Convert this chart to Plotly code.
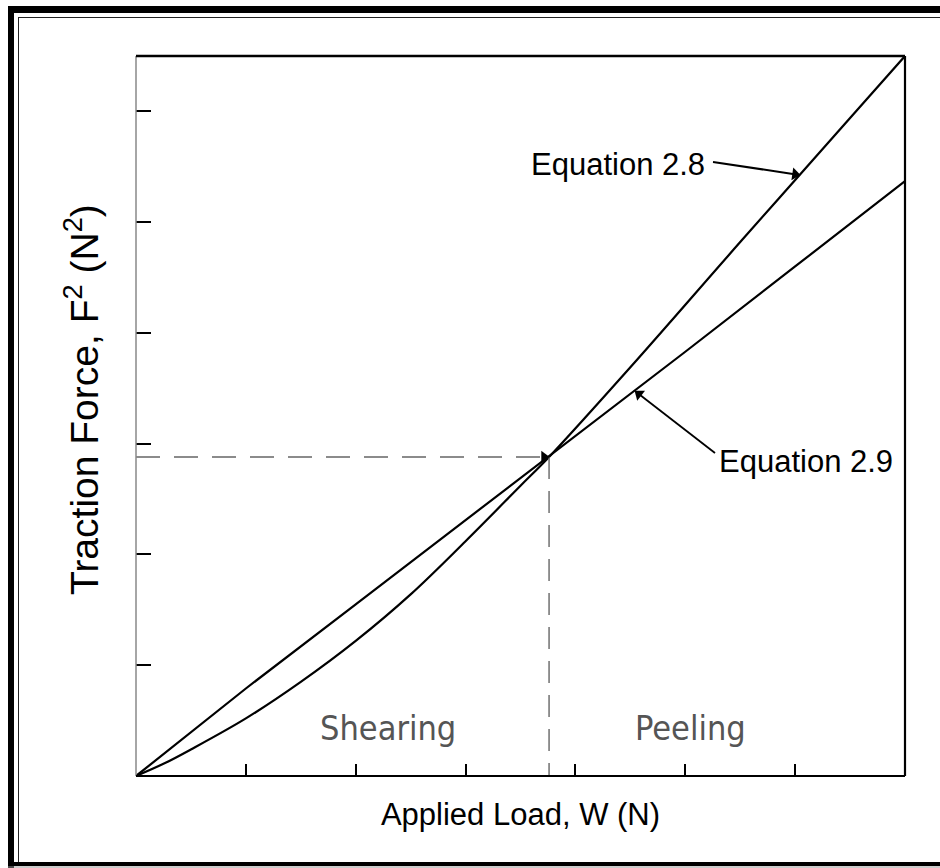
import math
import plotly.graph_objects as go

# Applied load W (N) and traction force squared F^2 (N^2) for the two models
w_eq28 = [0, 0.25, 0.5, 1.0, 1.5, 2.0, 2.5, 3.0, 3.5, 3.76, 4.5, 5.5, 6.5, 7.0]
f2_eq28 = [0, 0.11, 0.24, 0.52, 0.85, 1.22, 1.64, 2.12, 2.62, 2.88, 3.69, 4.82, 5.94, 6.5]

w_eq29 = [0, 1, 2, 3, 3.76, 5, 6, 7]
f2_eq29 = [0, 0.79, 1.55, 2.31, 2.88, 3.83, 4.6, 5.37]

# Shearing / peeling transition point
w_trans = 3.76
f2_trans = 2.88

x_ticks = [1, 2, 3, 4, 5, 6]
y_ticks = [1, 2, 3, 4, 5, 6]
x_range = [0, 7]
y_range = [0, 6.5]

W, H = 940, 868
L, R, T, B = 136, 35, 56, 92
PW, PH = W - L - R, H - T - B

FONT = "Arial, Liberation Sans, sans-serif"
STENCIL = "Liberation Sans Narrow, DejaVu Sans Condensed, sans-serif"


def px(x):
    """page pixel x -> paper fraction"""
    return (x - L) / PW


def py(y):
    """page pixel y -> paper fraction"""
    return (H - B - y) / PH


def to_data(xp, yp):
    """page pixel -> data coordinates"""
    return (x_range[0] + (xp - L) / PW * (x_range[1] - x_range[0]),
            y_range[0] + (H - B - yp) / PH * (y_range[1] - y_range[0]))


fig = go.Figure()

fig.add_trace(go.Scatter(x=w_eq28, y=f2_eq28, mode="lines",
                         line=dict(color="black", width=2.2, shape="spline", smoothing=1.0),
                         hoverinfo="skip", showlegend=False))
fig.add_trace(go.Scatter(x=w_eq29, y=f2_eq29, mode="lines",
                         line=dict(color="black", width=2.2),
                         hoverinfo="skip", showlegend=False))

# dashed guides to the transition point
fig.add_trace(go.Scatter(x=[0, w_trans], y=[f2_trans, f2_trans], mode="lines",
                         line=dict(color="#666", width=1.6, dash="24px,14px"),
                         hoverinfo="skip", showlegend=False))
fig.add_trace(go.Scatter(x=[w_trans, w_trans], y=[f2_trans, 0], mode="lines",
                         line=dict(color="#666", width=1.4, dash="22px,12px"),
                         hoverinfo="skip", showlegend=False))

shapes = []

# leader arrows: shaft as a line shape, head as a rotated triangle marker
head_x, head_y, head_ang = [], [], []


def arrow(tail, tip, shaft=True, width=1.8):
    dx, dy = tip[0] - tail[0], tip[1] - tail[1]
    n = math.hypot(dx, dy)
    ux, uy = dx / n, dy / n
    if shaft:
        x0, y0 = to_data(*tail)
        x1, y1 = to_data(tip[0] - ux * 4, tip[1] - uy * 4)
        shapes.append(dict(type="line", xref="x", yref="y", x0=x0, y0=y0, x1=x1, y1=y1,
                           line=dict(color="black", width=width)))
    hx, hy = to_data(tip[0] - ux * 5, tip[1] - uy * 5)
    head_x.append(hx)
    head_y.append(hy)
    head_ang.append(math.degrees(math.atan2(dx, -dy)))


arrow((713, 162), (800, 175), width=2.0)
arrow((715, 453), (635, 391), width=1.8)
tx = L + (w_trans - x_range[0]) / (x_range[1] - x_range[0]) * PW
ty = H - B - (f2_trans - y_range[0]) / (y_range[1] - y_range[0]) * PH
arrow((tx - 30, ty), (tx, ty), shaft=False)

fig.add_trace(go.Scatter(x=head_x, y=head_y, mode="markers",
                         marker=dict(symbol="triangle-up", size=11, angle=head_ang,
                                     color="black", line=dict(width=0)),
                         hoverinfo="skip", showlegend=False))

# plot frame: grey left side, black elsewhere
shapes.append(dict(type="line", xref="paper", yref="paper", x0=0, x1=0, y0=0, y1=1,
                   line=dict(color="#888", width=1.5)))
shapes.append(dict(type="line", xref="paper", yref="paper", x0=0, x1=1, y0=1, y1=1,
                   line=dict(color="black", width=2.5)))
shapes.append(dict(type="line", xref="paper", yref="paper", x0=1, x1=1, y0=0, y1=1,
                   line=dict(color="black", width=2.2)))
shapes.append(dict(type="line", xref="paper", yref="paper", x0=0, x1=1, y0=0, y1=0,
                   line=dict(color="black", width=2.2)))

# outer picture border (thick outer, thin inner)
for x0, y0, x1, y1 in [(8, 6, 940, 13), (8, 6, 14, 868), (8, 862, 940, 866)]:
    shapes.append(dict(type="rect", xref="paper", yref="paper",
                       x0=px(x0), x1=px(x1), y0=py(y1), y1=py(y0),
                       fillcolor="black", line=dict(width=0), layer="above"))
for x0, y0, x1, y1 in [(18, 17, 940, 18), (18, 17, 19, 862)]:
    shapes.append(dict(type="rect", xref="paper", yref="paper",
                       x0=px(x0), x1=px(x1), y0=py(y1), y1=py(y0),
                       fillcolor="#222", line=dict(width=0), layer="above"))
shapes.append(dict(type="line", xref="paper", yref="paper", x0=px(8), x1=px(940),
                   y0=py(867), y1=py(867), line=dict(color="#999", width=1)))

annotations = []
annotations.append(dict(x=5.2, y=5.525, xref="x", yref="y", text="Equation 2.8",
                        showarrow=False, xanchor="right", yanchor="middle",
                        font=dict(family=FONT, size=31, color="black")))
annotations.append(dict(x=5.289, y=2.835, xref="x", yref="y", text="Equation 2.9",
                        showarrow=False, xanchor="left", yanchor="middle",
                        font=dict(family=FONT, size=31, color="black")))
# regime labels
annotations.append(dict(x=px(388), y=py(728), xref="paper", yref="paper",
                        text="Shearing", showarrow=False, xanchor="center", yanchor="middle",
                        font=dict(family=STENCIL, size=34, color="#555")))
annotations.append(dict(x=px(690), y=py(728), xref="paper", yref="paper",
                        text="Peeling", showarrow=False, xanchor="center", yanchor="middle",
                        font=dict(family=STENCIL, size=34, color="#555")))
# y axis title, placed by hand
annotations.append(dict(x=px(81), y=py(400), xref="paper", yref="paper",
                        text="Traction Force, F<sup>2</sup> (N<sup>2</sup>)",
                        showarrow=False, textangle=-90, xanchor="center", yanchor="middle",
                        font=dict(family=FONT, size=39, color="black")))

fig.update_layout(
    width=W, height=H,
    margin=dict(l=L, r=R, t=T, b=B, pad=0),
    paper_bgcolor="white", plot_bgcolor="white",
    xaxis=dict(range=x_range, tickvals=x_ticks, ticks="inside", ticklen=12,
               tickwidth=1.5, tickcolor="black", showticklabels=False,
               showgrid=False, zeroline=False, showline=False, fixedrange=True,
               title=dict(text="Applied Load, W (N)", standoff=27,
                          font=dict(family=FONT, size=31, color="black"))),
    yaxis=dict(range=y_range, tickvals=y_ticks, ticks="inside", ticklen=15,
               tickwidth=1.8, tickcolor="black", showticklabels=False,
               showgrid=False, zeroline=False, showline=False, fixedrange=True),
    shapes=shapes,
    annotations=annotations,
)

fig.write_html("out.html")
